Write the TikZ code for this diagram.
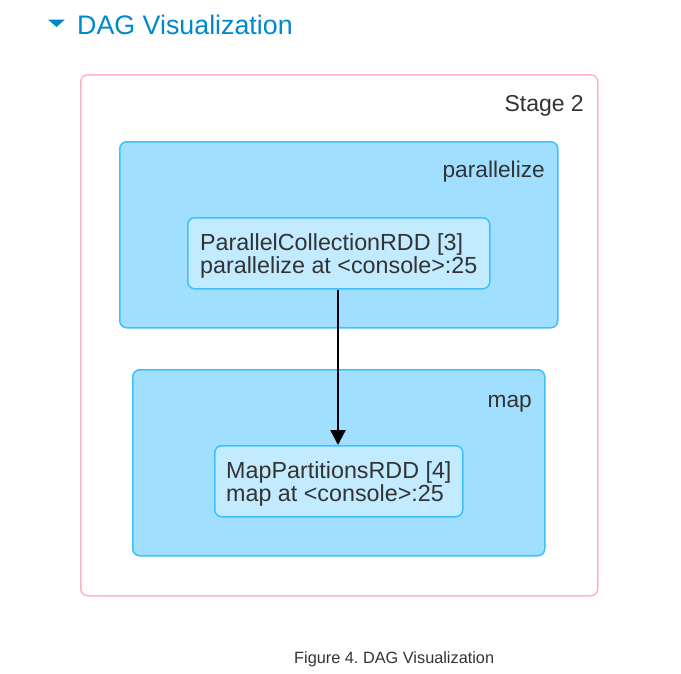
\documentclass[tikz,border=0pt]{standalone}
\usepackage{fontspec}
\setmainfont{Liberation Sans}
\usetikzlibrary{arrows.meta}
\definecolor{titleblue}{HTML}{0088CC}
\definecolor{stagepink}{HTML}{FFB3C0}
\definecolor{clusterfill}{HTML}{A0DFFF}
\definecolor{clusterline}{HTML}{3EC0FF}
\definecolor{rddfill}{HTML}{C3EBFF}
\definecolor{txt}{HTML}{333333}
\frenchspacing
\tikzset{
  stagebox/.style={draw=stagepink, line width=1.5pt, fill=white, rounded corners=7pt},
  clusterbox/.style={draw=clusterline, line width=1.5pt, fill=clusterfill, rounded corners=7pt},
  rddbox/.style={draw=clusterline, line width=1.5pt, fill=rddfill, rounded corners=7pt, inner sep=0pt},
  lbl/.style={inner sep=0pt, text=txt, font=\fontsize{22.7}{22.7}\selectfont},
  rddtxt/.style={inner sep=0pt, text=txt, font=\fontsize{23.3}{23}\selectfont, anchor=base west},
  edge/.style={line width=2.3pt, black, -{Triangle[length=15pt, width=15pt]}}
}
\begin{document}
\begin{tikzpicture}[x=1pt, y=-1pt]
\useasboundingbox (0,0) rectangle (681,673);
% title
\fill[titleblue] (48,19.5) -- (65,19.5) -- (56.5,27) -- cycle;
\node[inner sep=0pt, anchor=base west, text=titleblue, font=\fontsize{26.8}{26.8}\selectfont] (title) at (77,34) {DAG Visualization};
% stage
\node[stagebox, minimum width=517pt, minimum height=521pt, anchor=north west] (stage) at (80,74) {};
\node[lbl, anchor=base east, font=\fontsize{23}{23}\selectfont] (stagelbl) at (584,111) {Stage 2};
% clusters
\node[clusterbox, minimum width=438pt, minimum height=186pt, anchor=north west] (c1) at (119,141) {};
\node[lbl, anchor=base east] (c1lbl) at (545,177) {parallelize};
\node[clusterbox, minimum width=412pt, minimum height=186pt, anchor=north west] (c2) at (132,369) {};
\node[lbl, anchor=base east] (c2lbl) at (532,407) {map};
% rdds
\node[rddbox, minimum width=302pt, minimum height=71pt, anchor=north west] (r1) at (187,217) {};
\node[rddtxt] (r1a) at (200,250) {ParallelCollectionRDD [3]};
\node[rddtxt] (r1b) at (200,273) {parallelize at <console>:25};
\node[rddbox, minimum width=248pt, minimum height=71pt, anchor=north west] (r2) at (214,445) {};
\node[rddtxt] (r2a) at (226,478) {MapPartitionsRDD [4]};
\node[rddtxt] (r2b) at (226,501) {map at <console>:25};
% edge
\draw[edge] (r1.south -| 338,0) -- (r2.north -| 338,0);
% caption
\node[inner sep=0pt, anchor=base west, text=txt, font=\fontsize{16.3}{16.3}\selectfont] (cap) at (294,663) {Figure 4. DAG Visualization};
\end{tikzpicture}
\end{document}
